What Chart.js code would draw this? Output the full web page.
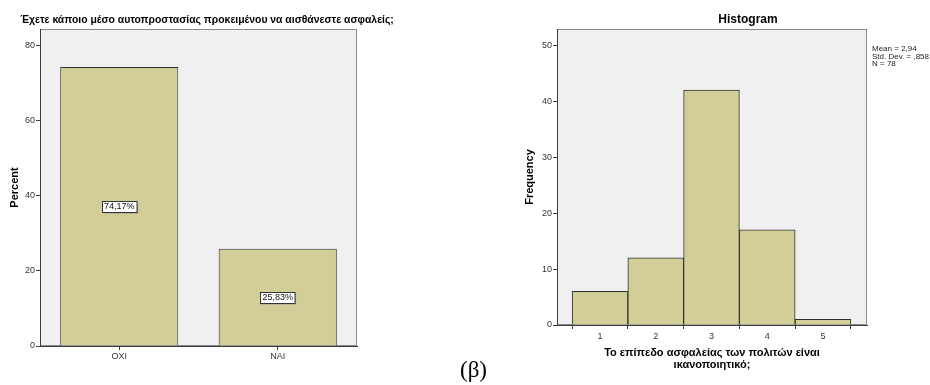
<!DOCTYPE html>
<html><head><meta charset="utf-8">
<script src="https://cdn.jsdelivr.net/npm/chart.js@4.4.0/dist/chart.umd.min.js"></script>
<style>
html,body{margin:0;padding:0;background:#fff;width:930px;height:385px;overflow:hidden}
#c1{position:absolute;left:0;top:0}
#c2{position:absolute;left:470px;top:0}
#beta{position:absolute;left:460px;top:357px;font-family:"Liberation Serif","DejaVu Serif",serif;font-size:23px;line-height:26px;color:#000}
</style></head><body>
<canvas id="c1" width="470" height="385"></canvas>
<canvas id="c2" width="460" height="385"></canvas>
<div id="beta">(β)</div>
<script>
// ---- data ----
const barCategories = ['ΟΧΙ', 'ΝΑΙ'];
const barPercents = [74.17, 25.83];
const barValueLabels = ['74,17%', '25,83%'];
const percentTicks = [0, 20, 40, 60, 80];
const leftTitle = 'Έχετε κάποιο μέσο αυτοπροστασίας προκειμένου να αισθάνεστε ασφαλείς;';

const histBins = [1, 2, 3, 4, 5];
const histFreq = [6, 12, 42, 17, 1];
const freqTicks = [0, 10, 20, 30, 40, 50];
const histTitle = 'Histogram';
const histXTitle = ['Το επίπεδο ασφαλείας των πολιτών είναι', 'ικανοποιητικό;'];
const statsLines = ['Mean = 2,94', 'Std. Dev. = ,858', 'N = 78'];

// ---- styles ----
const FONT = '"Liberation Sans", Arial, sans-serif';
const BAR_FILL = '#D3CE97';
const BAR_EDGE = '#2e2e2e';
const AXIS = '#3c3c3c';
const TICKTXT = '#333';

const backdrop = {
  id: 'backdrop',
  beforeDraw(chart) {
    const {ctx, chartArea: a} = chart;
    ctx.save();
    ctx.fillStyle = '#F0F0F0';
    ctx.fillRect(a.left, a.top, a.right - a.left, a.bottom - a.top);
    ctx.strokeStyle = '#8a8a8a';
    ctx.lineWidth = 1;
    ctx.strokeRect(a.left + 0.5, a.top + 0.5, a.right - a.left - 1, a.bottom - a.top - 1);
    ctx.restore();
  }
};

const freeText = {
  id: 'freeText',
  afterDraw(chart, args, opts) {
    const ctx = chart.ctx;
    (opts.items || []).forEach(it => {
      ctx.save();
      ctx.font = it.font;
      ctx.fillStyle = it.color || '#000';
      ctx.textAlign = it.align || 'left';
      ctx.textBaseline = 'middle';
      ctx.fillText(it.text, it.x, it.y);
      ctx.restore();
    });
  }
};

const valueBoxes = {
  id: 'valueBoxes',
  afterDatasetsDraw(chart, args, opts) {
    const ctx = chart.ctx;
    const meta = chart.getDatasetMeta(0);
    ctx.save();
    ctx.font = '9px ' + FONT;
    ctx.textAlign = 'center';
    ctx.textBaseline = 'middle';
    meta.data.forEach((el, i) => {
      const txt = opts.labels[i];
      const cx = el.x, cy = (el.y + el.base) / 2;
      const w = ctx.measureText(txt).width + 4, h = 11;
      const x0 = Math.round(cx - w / 2) + 0.5, y0 = Math.round(cy - h / 2) + 0.5;
      ctx.fillStyle = '#9a9a9a';
      ctx.fillRect(x0 + 1, y0 + 1, w, h);
      ctx.fillStyle = '#fff';
      ctx.fillRect(x0, y0, w, h);
      ctx.strokeStyle = '#333';
      ctx.lineWidth = 1;
      ctx.strokeRect(x0, y0, w, h);
      ctx.fillStyle = '#111';
      ctx.fillText(txt, cx, cy + 0.5);
    });
    ctx.restore();
  }
};

Chart.defaults.font.family = FONT;
Chart.defaults.animation = false;

// ---- left chart ----
new Chart(document.getElementById('c1'), {
  type: 'bar',
  data: {
    labels: barCategories,
    datasets: [{
      data: barPercents,
      backgroundColor: BAR_FILL,
      borderColor: BAR_EDGE,
      borderWidth: 1,
      barPercentage: 0.745,
      categoryPercentage: 1
    }]
  },
  options: {
    responsive: false,
    layout: {padding: {left: 0, top: 29, right: 113, bottom: 0}},
    plugins: {
      legend: {display: false},
      tooltip: {enabled: false},
      valueBoxes: {labels: barValueLabels},
      freeText: {items: [{text: leftTitle, x: 207, y: 20, align: 'center', font: 'bold 10.4px ' + FONT}]}
    },
    scales: {
      x: {
        grid: {drawOnChartArea: false, tickLength: 4, color: AXIS, offset: false},
        border: {color: AXIS, width: 1},
        ticks: {color: TICKTXT, font: {size: 9}, padding: 1},
        afterFit: s => { s.height = 39; }
      },
      y: {
        min: 0, max: 84.3,
        afterBuildTicks: s => { s.ticks = percentTicks.map(v => ({value: v})); },
        grid: {drawOnChartArea: false, tickLength: 4, color: AXIS},
        border: {color: AXIS, width: 1},
        ticks: {color: TICKTXT, font: {size: 9}, padding: 1},
        title: {display: true, text: 'Percent', color: '#000', font: {size: 11, weight: 'bold'}, padding: {top: 8, bottom: 0}},
        afterFit: s => { s.width = 40; }
      }
    }
  },
  plugins: [backdrop, valueBoxes, freeText]
});

// ---- right chart (histogram) ----
new Chart(document.getElementById('c2'), {
  type: 'bar',
  data: {
    datasets: [{
      data: histBins.map((b, i) => ({x: b, y: histFreq[i]})),
      backgroundColor: BAR_FILL,
      borderColor: BAR_EDGE,
      borderWidth: 1,
      barPercentage: 1,
      categoryPercentage: 1
    }]
  },
  options: {
    responsive: false,
    layout: {padding: {left: 50, top: 29, right: 63, bottom: 0}},
    plugins: {
      legend: {display: false},
      tooltip: {enabled: false},
      freeText: {items: [
        {text: histTitle, x: 278, y: 20, align: 'center', font: 'bold 12px ' + FONT},
        {text: statsLines[0], x: 402, y: 49, font: '8px ' + FONT, color: '#222'},
        {text: statsLines[1], x: 402, y: 56.5, font: '8px ' + FONT, color: '#222'},
        {text: statsLines[2], x: 402, y: 64, font: '8px ' + FONT, color: '#222'}
      ]}
    },
    scales: {
      x: {
        type: 'linear',
        min: 0.229, max: 5.789,
        offset: false,
        afterBuildTicks: s => { s.ticks = histBins.map(v => ({value: v})); },
        grid: {drawOnChartArea: false, tickLength: 4, color: AXIS},
        border: {color: AXIS, width: 1},
        ticks: {color: TICKTXT, font: {size: 9}, padding: 2},
        title: {display: true, text: histXTitle, color: '#000', font: {size: 11, weight: 'bold', lineHeight: 1.1}, padding: {top: 0, bottom: 14}},
        afterFit: s => { s.height = 60; }
      },
      y: {
        min: 0, max: 52.9,
        afterBuildTicks: s => { s.ticks = freqTicks.map(v => ({value: v})); },
        grid: {drawOnChartArea: false, tickLength: 4, color: AXIS},
        border: {color: AXIS, width: 1},
        ticks: {color: TICKTXT, font: {size: 9}, padding: 1},
        title: {display: true, text: 'Frequency', color: '#000', font: {size: 11, weight: 'bold'}, padding: {top: 3, bottom: 0}},
        afterFit: s => { s.width = 37; }
      }
    }
  },
  plugins: [backdrop, freeText]
});
</script>
</body></html>
